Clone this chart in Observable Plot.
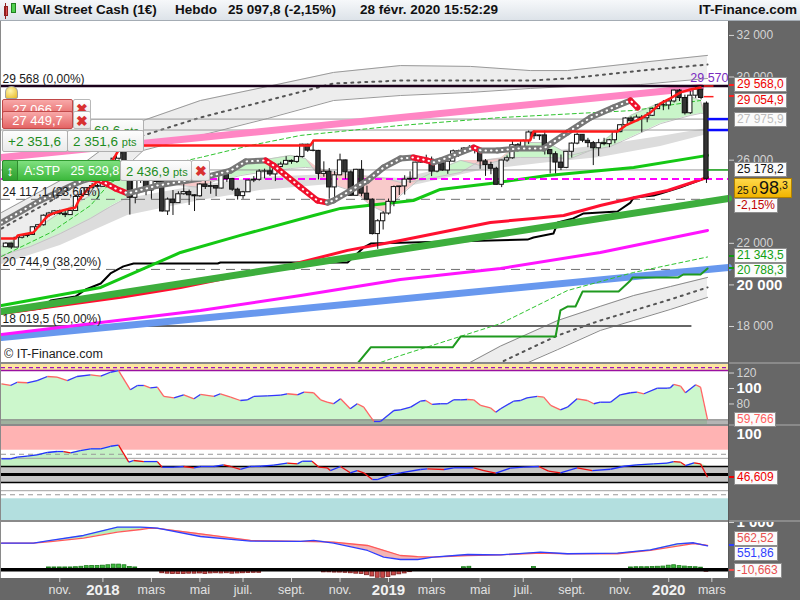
<!DOCTYPE html>
<html><head><meta charset="utf-8">
<script src="https://cdn.jsdelivr.net/npm/d3@7"></script>
<script src="https://cdn.jsdelivr.net/npm/@observablehq/plot@0.6"></script>
<style>
html,body{margin:0;padding:0;background:#fff;}
#root{position:relative;width:800px;height:600px;background:#676767;overflow:hidden;font-family:"Liberation Sans",Arial,sans-serif;}
#root svg{display:block;position:absolute;}
.bx{position:absolute;box-sizing:border-box;white-space:nowrap;overflow:hidden;}
</style></head><body><div id="root"></div>
<script>
// ================= DATA =================
// weekly candles, index 0 = week of 2017-08-28 ... index 130 = week of 2020-02-24
const open = [21814,21988,21798,22268,22350,22405,22773,22871,23329,23434,
23539,23422,23358,23558,24231,24329,24651,24754,24719,25295,
25803,26071,26616,25521,24190,25219,25310,24538,25335,24946,
23533,24103,23933,24360,24463,24311,24263,24831,24715,24753,
24635,25317,25090,24581,24271,24456,25019,25058,25451,25463,
25313,25669,25790,25965,25917,26155,26744,26458,26447,25340,
25444,24689,25271,25989,25413,24286,25538,24389,24101,22445,
23062,23433,23996,24706,24737,25064,25106,25883,26031,26026,
25450,25849,25502,25929,26425,26412,26559,26543,26505,25942,
25764,25586,24815,25984,26090,26719,26600,26922,27332,27154,
27192,26485,26287,25886,25629,26403,26797,27219,26935,26820,
26573,26817,26770,26958,27347,27681,28005,27876,28051,28015,
28135,28455,28645,28634,28823,29348,28990,28256,29102,29398,
28720];
const high = [22030,22010,22290,22420,22420,22780,22910,23370,23490,23560,
23600,23530,23600,24330,24540,24670,24880,24840,25300,25810,
26150,26620,26650,25600,25430,25460,25800,25360,25450,25080,
24180,24540,24480,24860,24560,24330,24870,25010,24960,24780,
25400,25400,25090,24650,24500,25040,25210,25540,25570,25690,
25710,25900,26170,26010,26200,26770,26770,26950,26470,25920,
25600,25460,26290,26000,25480,25560,25980,24750,24140,23140,
23520,24130,24760,24740,25250,25440,25900,26150,26240,26150,
25920,26110,25950,26490,26480,26600,26700,26700,26520,26030,
25900,25660,25990,26200,26900,26800,26970,27400,27400,27200,
27400,26500,26400,26250,26420,26830,27300,27220,27050,26900,
27000,27050,27000,27400,27700,28040,28090,28170,28150,28290,
28500,28700,28870,28960,29370,29400,29130,29300,29568,29370,
28800];
const low = [21790,21710,21790,22210,22270,22400,22740,22830,23240,23340,
23350,23240,23350,23550,24120,24300,24640,24690,24710,25200,
25720,26000,25490,23360,23900,24880,24290,24120,24850,23500,
23340,23340,23930,24320,23820,23530,24220,24590,24360,24250,
24620,24930,24500,24080,24120,24460,24920,24990,25100,25220,
24970,25640,25760,25800,25840,26100,26380,26400,25050,25180,
24120,24120,25250,25080,24270,24270,24240,24050,22400,21710,
22640,23360,23760,24300,24320,24880,25060,25850,25880,25210,
25390,25470,25320,25920,26140,26300,26400,26300,25560,25220,
25300,24800,24680,25900,26050,26400,26590,26750,27000,26950,
26250,25340,25340,25500,25590,26100,26740,26840,26600,25740,
26180,26690,26600,26790,27320,27620,27720,27850,27320,27800,
28100,28440,28380,28420,28750,28820,28170,28200,28970,28900,
24880];
const close = [21988,21798,22268,22350,22405,22773,22871,23329,23434,23539,
23422,23358,23558,24231,24329,24651,24754,24719,25295,25803,
26071,26616,25521,24190,25219,25310,24538,25335,24946,23533,
24103,23933,24360,24463,24311,24263,24831,24715,24753,24635,
25317,25090,24581,24271,24456,25019,25058,25451,25463,25313,
25669,25790,25965,25917,26155,26744,26458,26447,25340,25444,
24689,25271,25989,25413,24286,25538,24389,24101,22445,23062,
23433,23996,24706,24737,25064,25106,25883,26031,26026,25450,
25849,25502,25929,26425,26412,26559,26543,26505,25942,25764,
25586,24815,25984,26090,26719,26600,26922,27332,27154,27192,
26485,26287,25886,25629,26403,26797,27219,26935,26820,26573,
26817,26770,26958,27347,27681,28005,27876,28051,28015,28135,
28455,28645,28634,28823,29348,28990,28256,29102,29398,28992,
25098];

// x-axis ticks (week index of first candle of the month)
const tickWeek  = [10,18,27,36,44,53,62,71,79,88,96,105,114,123,131];
const tickLabel = ["nov.","2018","mars","mai","juil.","sept.","nov.","2019","mars","mai","juil.","sept.","nov.","2020","mars"];

const priceTicks = [18000,22000,26000,30000,32000];
const priceTickBold = [20000];

// horizontal levels
const fibLevels = [29568, 24117.1, 20744.9, 18019.5];
const fibLabels = ["29 568 (0,00%)","24 117,1 (23,60%)","20 744,9 (38,20%)","18 019,5 (50,00%)"];
const alertLevels = [27975.9, 27449.7];
const stopLevel = [25529.8];
const lastPrice = [25098.3];
const markerLevels = [29568, 29054.9];
const highMark = [29570];

// upper envelope band
const envWeek   = [-0.82,10.1,17.6,25.5,36.1,48.5,60.8,73.2,86.2,97.3,104.2,117.8,130.2];
const envUpper  = [23480,25020,26470,27910,28870,29540,30220,30550,30510,30310,30310,30700,31040];
const envMiddle = [22710,24300,25600,27190,28050,28870,29690,29830,29830,29830,29930,30310,30600];
const envLower  = [21750,23340,24540,26470,27190,28000,28870,29110,29260,29450,29540,29640,29930];
// lower envelope band
const lenvWeek   = [80.6,91.8,102.4,110.3,116.5,123.3,130.2];
const lenvUpper  = [15500,17060,18290,18970,19490,19920,20360];
const lenvMiddle = [14920,16270,17570,18290,18770,19300,19880];
const lenvLower  = [14440,15690,16890,17810,18290,18820,19400];
// grey band under prices
const gbWeek  = [-0.82,10.1,22.6,36.1,47.2,60.2,73.2,88.1,99.2,110.3,121.5,130.2];
const gbUpper = [21560,22620,24160,24780,25170,25310,25120,25990,26370,26710,27140,27520];
const gbLower = [20980,21900,23340,24060,24540,24830,24640,25500,25840,26130,26660,27240];
// fast / slow ribbon
const ribWeek = [-0.82,4.6,10.1,15.7,19.4,22.2,25.0,28.7,32.4,36.1,39.8,43.5,47.2,52.8,55.6,58.0,61.2,64.9,67.7,70.4,73.2,76.9,80.6,84.4,88.1,91.8,95.5,100.5,104.8,108.5,112.2,115.9,121.5,127.0,128.9,130.2];
const ribFast = [21850,22520,23480,24300,25020,25120,24450,25020,24780,24690,25120,25740,25990,26230,26080,25260,24780,24450,23820,23480,24300,25120,25600,25990,25740,25990,26850,26850,26230,26470,27190,28150,28770,29060,28870,27570];
const ribSlow = [21420,21850,22470,23200,23770,24160,24450,24690,24930,25020,25020,25260,25410,25600,25650,25600,25410,25260,25220,25120,24930,25020,25220,25410,25990,26080,26130,26130,26080,26470,26660,27090,27760,28150,28250,28250];
// thick dotted moving average
const hmaWeek  = [-0.82,6.4,13.8,15.7,17.6,20.3,22.6,28.1,36.1,41.7,44.5,48.2,49.7,54.7,57.8,59.7,60.8,67.1,70.1,73.2,75.6,78.2,79.3,80.6,86.8,88.1,91.2,94.9,99.8,104.2,108.5,112.7,115.9,117.2];
const hmaValue = [23000,24060,24975,25120,25020,24640,24400,24780,25120,25500,25940,25985,25740,24690,24060,23960,24060,25020,25650,26080,26130,25985,25890,25985,26610,26470,26470,26560,26560,27330,28050,28530,28870,28530];
// moving averages
const gmaWeek  = [-0.82,17.6,32.4,43.5,57.1,62.1,75.6,80.6,89.9,100.5,116.5,130.2];
const gmaValue = [19010,19880,21560,22380,23340,23680,24060,24590,24880,25260,25650,26230];
const rmaWeek  = [-0.82,21.3,32.4,50.9,63.4,73.2,80.6,89.9,97.9,103.5,110.3,115.9,122.8,130.2];
const rmaValue = [18630,19400,19880,20840,21660,22140,22520,23000,23200,23340,23820,24160,24540,25170];
const blkWeek  = [-0.82,6.4,8.3,12.9,14.8,17.6,19.4,21.8,23.7,39.3,39.8,63.4,66.4,67.7,96.8,97.9,101.6,102.4,105.3,107.2,113.5,115.9,116.5,120.2,121.5,125.2,130.2];
const blkValue = [18630,18870,19250,19440,19780,20070,20550,20890,21030,21030,21080,21080,21800,21990,22180,22280,22470,23000,23200,23440,23530,23960,24210,24300,24400,24690,25170];
const magWeek  = [-0.82,17.6,36.1,54.7,73.2,91.8,110.3,130.2];
const magValue = [17620,18190,18770,19490,20260,20790,21560,22620];
// trendlines
const tlGreenWeek = [-0.82,134.09], tlGreenValue = [18720,24160];
const tlBlueWeek  = [-0.82,134.09], tlBlueValue  = [17470,20840];
const tlPinkWeek  = [-0.82,128.9],  tlPinkValue  = [26130,29500];
// dashed green lines
const gd1Week  = [-0.82,8.3,15.7,19.4,26.8,36.1,45.4,54.7,73.2,91.8,116.5,128.9];
const gd1Value = [21370,22520,23820,24930,25600,26130,26710,27190,27670,28050,28390,28870];
const gd2Week  = [66.0,69.5,73.2,91.8,104.2,116.5,130.2];
const gd2Value = [15900,16270,16600,18140,19730,20600,21343.5];
// green stepped line
const gsWeek  = [65.4,67.7,82.9,84.4,102.0,102.9,104.2,105.7,107.0,113.7,115.9,116.3,124.8,125.7,128.9,130.2];
const gsValue = [16268,17000,17000,17520,17520,18770,18960,18960,19680,19680,20210,20360,20360,20500,20500,20788.3];
// red stepped highest line
const rsWeek  = [-0.82,1.8,2.2,5.1,5.9,7.0,7.9,8.8,10.5,12.0,12.9,13.5,14.2,15.3,16.6,18.5,19.8,20.9,21.6,56.5,57.1,97.3,97.9,113.5,115.0,117.8,119.6,121.5,123.3,125.2,127.0,128.9];
const rsValue = [22230,22230,22380,22520,22760,23100,23340,23440,23580,23680,23720,24060,24300,24640,24880,25410,25990,26470,26710,26710,26950,26950,27380,27380,27670,28000,28290,28730,28970,29260,29400,29500];

// oscillator 1 (panel 2)
const osc1Week = [-0.82,0.85,2.1,3.95,5.8,7.7,9.5,11.4,13.2,15.7,17.6,19.4,20.9,23.1,24.4,25.6,26.8,28.1,29.3,31.2,33.0,34.9,36.1,38.6,39.8,41.7,43.5,44.8,46.0,48.5,51.0,52.2,54.1,55.3,57.1,58.4,59.6,60.8,62.1,63.9,65.2,66.4,67.7,68.3,69.5,72.0,73.2,75.1,76.9,77.9,79.1,80.6,81.9,83.1,84.4,85.6,86.8,88.1,89.9,90.9,91.8,94.2,95.5,96.7,98.6,99.8,101.1,102.9,104.2,106.0,107.9,109.1,110.3,112.2,114.0,115.9,117.1,118.4,120.9,122.7,123.3,123.9,125.2,126.1,128.0,128.9,130.2];
const osc1Value = [106.1,103.9,108.1,107.4,110.3,115.5,114.6,110.3,115.5,117.7,115.9,121.0,123.2,98.3,103.9,103.9,100.9,101.7,89.7,88.0,91.9,86.7,92.3,89.7,93.2,88.8,84.5,85.4,89.7,90.6,91.4,93.2,91.9,95.2,94.5,85.4,82.3,80.3,86.7,73.8,80.3,75.9,63.0,57.4,57.4,71.6,72.5,75.9,83.6,84.5,79.4,80.3,80.3,85.4,85.4,85.8,85.4,78.1,75.1,69.4,73.8,83.6,84.5,88.0,89.7,88.8,78.1,72.5,75.9,86.7,84.5,80.3,82.3,82.3,91.9,94.5,95.2,93.2,100.4,100.4,100.9,105.2,103.0,94.5,104.8,101.7,59.766];
const osc1Ticks = [80,120], osc1TickBold = [100];
const osc1TopBand = [123.2,131], osc1Dash = [127], osc1Floor = [53.5,59.5];

// RSI (panel 3)
const rsiWeek = [-0.82,0.85,2.1,3.95,5.8,7.7,9.5,10.7,12.0,13.8,15.7,17.6,19.4,20.9,22.8,23.7,25.6,28.1,29.0,31.2,33.0,34.9,36.1,38.6,40.4,41.7,43.5,45.4,47.2,49.7,52.2,54.1,55.0,56.8,58.1,59.6,60.2,62.1,63.9,65.2,66.4,68.0,68.9,71.4,73.2,76.9,78.2,81.3,83.1,86.8,88.7,90.9,93.6,96.1,98.9,100.7,102.9,106.0,108.8,112.2,114.7,117.1,120.2,122.7,123.9,125.2,126.1,127.7,128.9,130.2];
const rsiValue = [69.4,69.4,71.4,72.6,74.3,77.2,78.4,78.4,76.8,79.6,81.7,81.7,84.9,86.2,65.2,67.3,66.0,66.0,59.0,59.0,59.9,58.3,59.9,59.9,62.0,59.9,56.2,59.9,60.2,61.5,64.0,63.2,66.4,66.4,59.0,58.3,54.9,59.9,52.1,54.9,52.1,43.8,43.8,49.6,52.1,56.2,57.0,56.2,58.3,58.3,54.9,51.6,57.8,59.0,59.9,54.1,52.1,58.3,54.9,56.5,60.2,62.0,63.2,64.0,66.0,65.2,61.1,64.4,63.2,46.609];
const rsiZones = {pinkFrom:80, tealTo:20, grayFrom:40, grayTo:60};
const rsiDashed = [75,25], rsiThin = [70,30], rsiBlack = [60,40], rsiMid = [50];
const rsiTickBold = [100];

// MACD (panel 4)
const macdWeek = [-0.82,5.1,8.3,14.4,20.7,25.0,26.8,28.1,36.1,45.4,54.7,57.1,60.8,67.1,70.1,73.2,76.4,79.3,85.7,91.8,99.2,104.2,113.5,119.6,124.6,127.6,130.2];
const macdBlue = [614,614,677,792,984,984,975,961,769,661,654,677,614,446,291,238,238,291,353,346,406,370,383,462,600,624,551.86];
const macdRed  = [614,614,650,730,868,930,961,955,831,677,654,650,637,561,450,330,305,291,330,346,383,370,370,446,545,607,562.52];
const histWeek = [8,9,10,11,12,13,14,15,16,17,18,19,20,21,22,23,24,29,30,31,32,33,34,35,36,37,38,39,40,41,42,43,44,45,46,47,59,60,61,62,63,64,65,66,67,68,69,70,71,72,73,74,75,85,86,98,116,117,118,119,120,121,122,123,124,125,126,127,128,129,130];
const histValue = [20,20,20,20,20,25,35,50,55,55,60,70,85,85,70,30,20,-45,-55,-60,-60,-60,-55,-55,-50,-60,-50,-45,-50,-45,-55,-50,-45,-40,-35,-35,-25,-25,-30,-30,-35,-45,-55,-60,-90,-120,-150,-150,-130,-95,-70,-50,-20,25,35,30,20,25,25,25,30,35,40,60,70,50,40,30,25,15,-10.663];
const macdTickBold = [1000];

// ================= BUILD =================
const root = document.getElementById("root");
const XDOM = [-0.82, 134.09];
const loc = d3.formatLocale({decimal:",", thousands:" ", grouping:[3], currency:["","€"]});
const fmtK = loc.format(",.0f"), fmt1 = loc.format(",.1f");
const FONT = "Liberation Sans, Arial, sans-serif";

const zip = (ws, vs) => ws.map((w,k)=>({w, v:vs[k]}));
const segs = (ws, vs) => ws.slice(0,-1).map((w,k)=>({w1:w, v1:vs[k], w2:ws[k+1], v2:vs[k+1]}));
const bg = (yd, fill="white") => Plot.rect([0], {x1:()=>XDOM[0], x2:()=>XDOM[1], y1:()=>yd[0], y2:()=>yd[1], fill});
const band = (lo, hi, fill) => Plot.rect([0], {x1:()=>XDOM[0], x2:()=>XDOM[1], y1:()=>lo, y2:()=>hi, fill});

function div(left, top, w, h, css, html){
  const d = document.createElement("div"); d.className = "bx"; d.style.cssText = css || "";
  d.style.left = left+"px"; d.style.top = top+"px"; d.style.width = w+"px"; d.style.height = h+"px";
  d.innerHTML = html || ""; root.appendChild(d); return d;
}
function put(svg, top){ svg.style.left = "0px"; svg.style.top = top+"px"; root.appendChild(svg); return svg; }

const base = {width:800, marginLeft:1, marginRight:72, marginTop:0,
  color:{type:"identity"},
  style:{background:"transparent", color:"#d4d4d4", fontFamily:FONT, overflow:"hidden"}};

// ---------- main panel ----------
const candles = close.map((c,i)=>({i, o:open[i], h:high[i], l:low[i], c}));
const env = envWeek.map((w,k)=>({w, up:envUpper[k], mid:envMiddle[k], lo:envLower[k]}));
const lenv = lenvWeek.map((w,k)=>({w, up:lenvUpper[k], mid:lenvMiddle[k], lo:lenvLower[k]}));
const gb = gbWeek.map((w,k)=>({w, a:gbUpper[k], b:gbLower[k]}));
const rib = ribWeek.map((w,k)=>({w, f:ribFast[k], s:ribSlow[k]}));
const YMAIN = [16268, 32670];
const MAIN_TOP = 21, MAIN_H = 341;

const main = Plot.plot({...base, height:MAIN_H, marginBottom:0,
  x:{domain:XDOM, axis:null}, y:{domain:YMAIN},
  marks:[
    bg(YMAIN),
    Plot.areaY(env, {x:"w", y1:"lo", y2:"up", fill:"#ededed"}),
    Plot.line(env, {x:"w", y:"up", stroke:"#9a9a9a", strokeWidth:1}),
    Plot.line(env, {x:"w", y:"lo", stroke:"#9a9a9a", strokeWidth:1}),
    Plot.line(env, {x:"w", y:"mid", stroke:"#555", strokeWidth:2, strokeDasharray:"2,5"}),
    Plot.areaY(lenv, {x:"w", y1:"lo", y2:"up", fill:"#ededed", clip:true}),
    Plot.line(lenv, {x:"w", y:"up", stroke:"#8a8a8a", strokeWidth:1, clip:true}),
    Plot.line(lenv, {x:"w", y:"lo", stroke:"#8a8a8a", strokeWidth:1, clip:true}),
    Plot.line(lenv, {x:"w", y:"mid", stroke:"#555", strokeWidth:2, strokeDasharray:"2,5", clip:true}),
    Plot.areaY(gb, {x:"w", y1:"b", y2:"a", fill:"#dcdcdc"}),
    Plot.areaY(rib, {x:"w", y1:"s", y2:d=>Math.max(d.f,d.s), fill:"#c9f5c9"}),
    Plot.areaY(rib, {x:"w", y1:"f", y2:d=>Math.max(d.f,d.s), fill:"#f8caca"}),
    Plot.line(rib, {x:"w", y:"f", stroke:"#c4c4c4", strokeWidth:1}),
    Plot.line(rib, {x:"w", y:"s", stroke:"#c4c4c4", strokeWidth:1}),
    Plot.ruleY(fibLevels.slice(1,3), {x1:()=>XDOM[0], x2:()=>130.6, stroke:"#707070", strokeDasharray:"9,6"}),
    Plot.ruleY(fibLevels.slice(3), {x1:()=>XDOM[0], x2:()=>127.3, stroke:"#666", strokeWidth:2}),
    Plot.ruleY(alertLevels, {x1:()=>XDOM[0], x2:()=>130.3, stroke:"#9a9a9a"}),
    Plot.ruleY(stopLevel, {x1:()=>XDOM[0], x2:()=>130.3, stroke:"#9a9a9a"}),
    Plot.line(zip(tlBlueWeek, tlBlueValue), {x:"w", y:"v", stroke:"#6898ee", strokeWidth:7}),
    Plot.line(zip(tlPinkWeek, tlPinkValue), {x:"w", y:"v", stroke:"#ff86c4", strokeWidth:7}),
    Plot.line(zip(magWeek, magValue), {x:"w", y:"v", stroke:"#ff14ff", strokeWidth:3}),
    Plot.line(zip(blkWeek, blkValue), {x:"w", y:"v", stroke:"#000", strokeWidth:2}),
    Plot.line(zip(rmaWeek, rmaValue), {x:"w", y:"v", stroke:"#ff1030", strokeWidth:3}),
    Plot.line(zip(tlGreenWeek, tlGreenValue), {x:"w", y:"v", stroke:"#3dae3d", strokeWidth:7}),
    Plot.line(zip(gmaWeek, gmaValue), {x:"w", y:"v", stroke:"#14c814", strokeWidth:3}),
    Plot.line(zip(gd1Week, gd1Value), {x:"w", y:"v", stroke:"#2fc42f", strokeWidth:1, strokeDasharray:"4,3"}),
    Plot.line(zip(gd2Week, gd2Value), {x:"w", y:"v", stroke:"#2fc42f", strokeWidth:1, strokeDasharray:"4,3", clip:true}),
    Plot.line(zip(gsWeek, gsValue), {x:"w", y:"v", stroke:"#1f9a1f", strokeWidth:2, clip:true}),
    Plot.ruleY(fibLevels.slice(0,1), {stroke:"#1a001a", strokeWidth:2.5}),
    Plot.ruleY(lastPrice, {stroke:"#ff00ff", strokeWidth:2, strokeDasharray:"7,4"}),
    Plot.ruleX(candles, {x:"i", y1:"l", y2:"h", stroke:"#111", strokeWidth:1}),
    Plot.rect(candles, {x1:d=>d.i-0.4, x2:d=>d.i+0.4, y1:d=>Math.min(d.o,d.c), y2:d=>Math.max(d.o,d.c),
      fill:d=>d.c>=d.o?"#ffffff":"#333333", stroke:"#111", strokeWidth:1}),
    Plot.link(segs(hmaWeek, hmaValue), {x1:"w1", y1:"v1", x2:"w2", y2:"v2",
      stroke:d=>d.v2<d.v1?"#f0102c":"#777777", strokeWidth:6, strokeLinecap:"round"}),
    Plot.line(zip(hmaWeek, hmaValue), {x:"w", y:"v", stroke:"white", strokeWidth:2, strokeDasharray:"0.5,5", strokeLinecap:"round"}),
    Plot.line(zip(rsWeek, rsValue), {x:"w", y:"v", stroke:"#ff1a1a", strokeWidth:2.5}),
    Plot.ruleY(alertLevels, {x1:()=>130.3, x2:()=>XDOM[1], stroke:"#0a0aff", strokeWidth:2.5}),
    Plot.ruleY(stopLevel, {x1:()=>130.3, x2:()=>XDOM[1], stroke:"#119911", strokeWidth:1.5}),
    Plot.ruleY(markerLevels, {x1:()=>129.6, x2:()=>131.4, stroke:"#ff2020", strokeWidth:1.5}),
    Plot.text(fibLevels, {x:()=>XDOM[0], y:d=>d, text:(d,k)=>fibLabels[k], dx:1, dy:-7, textAnchor:"start",
      fontSize:12, fill:"#1a1a1a"}),
    Plot.text(highMark, {x:()=>XDOM[1], y:d=>d, text:()=> "29 570", dy:-8, textAnchor:"end", fontSize:12.5, fill:"#7a2cc0"}),
    Plot.axisY(priceTicks, {anchor:"right", tickSize:5, tickPadding:3, tickFormat:fmtK, fontSize:12, label:null}),
    Plot.axisY(priceTickBold, {anchor:"right", tickSize:5, tickPadding:3, tickFormat:fmtK, fontSize:15, fontWeight:"bold", fill:"#ffffff", label:null})
  ]});
put(main, MAIN_TOP);

// ---------- panel 2 oscillator ----------
const Y2 = [53.5, 131];
const osc1 = zip(osc1Week, osc1Value);
const P2_TOP = 364;
const p2 = Plot.plot({...base, height:60, marginBottom:0, x:{domain:XDOM, axis:null}, y:{domain:Y2},
  marks:[
    bg(Y2),
    band(osc1TopBand[0], osc1TopBand[1], "#fde6a0"),
    Plot.ruleY(osc1Dash, {stroke:"#9a10c0", strokeWidth:1.2, strokeDasharray:"4,3"}),
    Plot.ruleY(osc1TopBand.slice(0,1), {stroke:"#9a10a0", strokeWidth:1.5}),
    Plot.areaY(osc1, {x:"w", y1:()=>Y2[0], y2:"v", fill:"#ccf7cc"}),
    band(osc1Floor[0], osc1Floor[1], "rgba(120,120,120,0.55)"),
    Plot.ruleY(osc1Floor.slice(1), {stroke:"#888"}),
    Plot.link(segs(osc1Week, osc1Value), {x1:"w1", y1:"v1", x2:"w2", y2:"v2",
      stroke:d=>d.v2<d.v1?"#ff6464":"#3434ff", strokeWidth:1.3}),
    Plot.axisY(osc1Ticks, {anchor:"right", tickSize:5, tickPadding:3, fontSize:12, label:null}),
    Plot.axisY(osc1TickBold, {anchor:"right", tickSize:5, tickPadding:3, fontSize:15, fontWeight:"bold", fill:"#fff", label:null})
  ]});
put(p2, P2_TOP);

// ---------- panel 3 RSI ----------
const Y3 = [-6.8, 109.3];
const rsi = zip(rsiWeek, rsiValue);
const P3_TOP = 426;
const p3 = Plot.plot({...base, height:94, marginBottom:0, x:{domain:XDOM, axis:null}, y:{domain:Y3},
  marks:[
    bg(Y3),
    band(rsiZones.pinkFrom, Y3[1], "#ffb3b3"),
    band(Y3[0], rsiZones.tealTo, "#b3dfdf"),
    band(rsiZones.grayFrom, rsiZones.grayTo, "#c6c6c6"),
    Plot.areaY(rsi, {x:"w", y1:()=>60, y2:d=>Math.max(d.v,60), fill:"#c3f0c3"}),
    Plot.ruleY(rsiDashed, {stroke:"#999", strokeDasharray:"5,4"}),
    Plot.ruleY(rsiThin, {stroke:"#a0a0a0"}),
    Plot.ruleY(rsiBlack, {stroke:"#000", strokeWidth:1.5}),
    Plot.ruleY(rsiMid, {stroke:"#000", strokeWidth:3}),
    Plot.link(segs(rsiWeek, rsiValue), {x1:"w1", y1:"v1", x2:"w2", y2:"v2",
      stroke:d=>d.v2<d.v1?"#ee1010":"#2030ff", strokeWidth:1.3}),
    Plot.axisY(rsiTickBold, {anchor:"right", tickSize:0, tickPadding:8, fontSize:15, fontWeight:"bold", fill:"#fff", label:null})
  ]});
put(p3, P3_TOP);

// ---------- panel 4 MACD + time axis ----------
const Y4 = [-201, 1092];
const macd = macdWeek.map((w,k)=>({w, b:macdBlue[k], r:macdRed[k]}));
const hist = histWeek.map((w,k)=>({w, v:histValue[k]}));
const labelOf = new Map(tickWeek.map((w,k)=>[w, tickLabel[k]]));
const isYear = w => /^\d{4}$/.test(labelOf.get(w));
const P4_TOP = 522;
const p4 = Plot.plot({...base, height:78, marginBottom:22, x:{domain:XDOM}, y:{domain:Y4},
  marks:[
    bg(Y4),
    Plot.areaY(macd, {x:"w", y1:"r", y2:d=>Math.max(d.b,d.r), fill:"#b8f0b8"}),
    Plot.areaY(macd, {x:"w", y1:"b", y2:d=>Math.max(d.b,d.r), fill:"#f3b5b5"}),
    Plot.line(macd, {x:"w", y:"r", stroke:"#ff5a5a", strokeWidth:1.3}),
    Plot.line(macd, {x:"w", y:"b", stroke:"#2f3fff", strokeWidth:1.3}),
    Plot.rect(hist.filter(d=>d.v>0), {x1:d=>d.w-0.36, x2:d=>d.w+0.36, y1:()=>0, y2:"v", dy:-1.5, fill:"#3cbc3c", stroke:"#1b7a1b", strokeWidth:0.8}),
    Plot.rect(hist.filter(d=>d.v<0), {x1:d=>d.w-0.36, x2:d=>d.w+0.36, y1:()=>0, y2:"v", dy:1.5, fill:"#c84848", stroke:"#7a1b1b", strokeWidth:0.8}),
    Plot.ruleY([0], {stroke:"#000", strokeWidth:3.5}),
    Plot.axisY(macdTickBold, {anchor:"right", tickSize:5, tickPadding:3, tickFormat:fmtK, fontSize:15, fontWeight:"bold", fill:"#fff", dy:-4, label:null}),
    Plot.axisX(tickWeek.filter(w=>!isYear(w)), {anchor:"bottom", tickSize:4, tickPadding:3, tickFormat:w=>labelOf.get(w), fontSize:12.5, fill:"#e2e2e2", label:null}),
    Plot.axisX(tickWeek.filter(isYear), {anchor:"bottom", tickSize:4, tickPadding:2, tickFormat:w=>labelOf.get(w), fontSize:15, fontWeight:"bold", fill:"#f2f2f2", label:null})
  ]});
put(p4, P4_TOP);

// ---------- chrome: separators, borders ----------
div(0,362,800,2,"background:#8a8a8a");
div(0,424,800,2,"background:#8a8a8a");
div(0,520,800,2,"background:#8a8a8a");
div(0,21,1,557,"background:#8a8a8a");
div(728,21,1,557,"background:#5a5a5a");

// ---------- title bar ----------
div(0,0,800,21,"background:linear-gradient(#f6f8fa,#dde3e9);border-bottom:1px solid #a4acb4;");
div(4,6,4,10,"background:#e05050;border:1px solid #902020;");
div(5,3,1,16,"background:#902020;width:1px");
div(11,3,5,10,"background:#50d050;border:1px solid #208020;");
const titleCss = "font-weight:bold;font-size:13.5px;color:#111;line-height:20px;overflow:visible;";
div(23,0,150,20,titleCss,"Wall Street Cash (1€)");
div(175,0,50,20,titleCss,"Hebdo");
div(228,0,130,20,titleCss,"25 097,8 (-2,15%)");
div(360,0,160,20,titleCss,"28 févr. 2020 15:52:29");
div(640,0,157,20,titleCss+"text-align:right;","IT-Finance.com");

// ---------- left overlay boxes ----------
const redBox = "background:linear-gradient(#f8a8a8,#e46464);border:1px solid #c04848;color:#fff;font-size:13px;text-align:center;border-radius:2px;";
const xBox = "background:linear-gradient(#ffffff,#e6e6e6);border:1px solid #b8b8b8;color:#d83030;font-weight:bold;font-size:14px;text-align:center;border-radius:2px;";
const wBox = "background:linear-gradient(#fdfdfd,#eaeaea);border:1px solid #b0b0b0;color:#1e8c1e;font-size:13.5px;border-radius:2px;";
div(2,99,71,19,redBox+"line-height:20px;","27 066,7");
div(73,99,18,19,xBox+"line-height:19px;","✖");
div(90,119,54,24,wBox+"line-height:22px;padding-left:3px;","68,6 <span style='font-size:11px'>pts</span>");
div(2,111,71,18,redBox+"line-height:17px;","27 449,7");
div(73,111,18,18,xBox+"line-height:18px;","✖");
div(5,86,13,13,"background:radial-gradient(circle at 40% 35%,#fff6b0,#e8b820);border:1px solid #a0a0a0;border-radius:6px 6px 2px 2px;");
div(2,130,66,22,wBox+"line-height:22px;padding-left:5px;","+2 351,6");
div(67,130,77,22,wBox+"line-height:22px;padding-left:5px;","2 351,6 <span style='font-size:11px'>pts</span>");
div(2,160,119,21,"background:linear-gradient(#80e080,#3cb83c);border:1px solid #2e9a2e;color:#fff;font-size:12.5px;line-height:21px;padding-left:21px;border-radius:2px;","A:STP&nbsp;&nbsp;&nbsp;25 529,8");
div(2,160,16,21,"background:linear-gradient(#5cc85c,#2ea02e);border:1px solid #2e8a2e;color:#fff;font-weight:bold;font-size:14px;line-height:20px;text-align:center;border-radius:2px 0 0 2px;","↕");
div(120,160,72,21,wBox+"line-height:21px;padding-left:5px;font-size:13px;","2 436,9 <span style='font-size:11px'>pts</span>");
div(191,160,19,21,xBox+"line-height:21px;","✖");
div(4,347,140,14,"font-size:12.5px;color:#222;line-height:14px;","© IT-Finance.com");

// ---------- right value boxes ----------
const yM = v => MAIN_TOP + main.scale("y").apply(v);
const y2 = v => P2_TOP + p2.scale("y").apply(v);
const y3 = v => P3_TOP + p3.scale("y").apply(v);
const y4 = v => P4_TOP + p4.scale("y").apply(v);
function rbox(cy, text, color, w, extra){
  return div(734, Math.round(cy-7), w||53, 15, "background:#fbfbfb;border:1px solid #8e8e8e;font-size:12px;line-height:13px;padding-left:2px;color:"+color+";"+(extra||""), text);
}
function tick(cy, color){ div(729, Math.round(cy)-1, 5, 2, "background:"+color); }
tick(yM(29568), "#ff2020"); tick(yM(29054.9), "#ff2020");
tick(yM(21343.5), "#119911"); tick(yM(20788.3), "#119911");
rbox(yM(29568)-1, fmt1(29568.0), "#ee0000");
rbox(yM(29054.9)+4, fmt1(29054.9), "#ee0000");
rbox(yM(27975.9), fmt1(27975.9), "#bdbdbd");
rbox(yM(25178.2)-8, fmt1(25178.2), "#111");
const yb = div(734, Math.round(yM(25098.3)), 58, 20, "background:linear-gradient(#ffd84a,#f0b400);border:1px solid #b08000;color:#111;padding-left:1px;overflow:visible;", "");
yb.innerHTML = "<span style='position:absolute;left:2px;top:6px;font-size:10.5px;line-height:11px'>25 0</span>"
  + "<span style='position:absolute;left:24px;top:0px;font-size:18px;line-height:19px'>98</span>"
  + "<span style='position:absolute;left:44px;top:1px;font-size:10.5px;line-height:11px'>,3</span>";
rbox(yM(25098.3)+27, "-2,15%", "#c00000", 44);
rbox(yM(21343.5)-1.5, fmt1(21343.5), "#11a011");
rbox(yM(20788.3)+2, fmt1(20788.3), "#11a011");
rbox(y2(59.766), "59,766", "#ff6060", 42);
tick(y3(46.609), "#ee0000");
rbox(y3(46.609), "46,609", "#ee0000", 44);
rbox(y4(562.52)-7, "562,52", "#e85050", 44);
tick(y4(551.86), "#2f3fff");
rbox(y4(551.86)+8, "551,86", "#2f3fff", 44);
tick(y4(-10.663), "#e85050");
rbox(y4(-10.663), "-10,663", "#e85050", 48);
</script></body></html>
